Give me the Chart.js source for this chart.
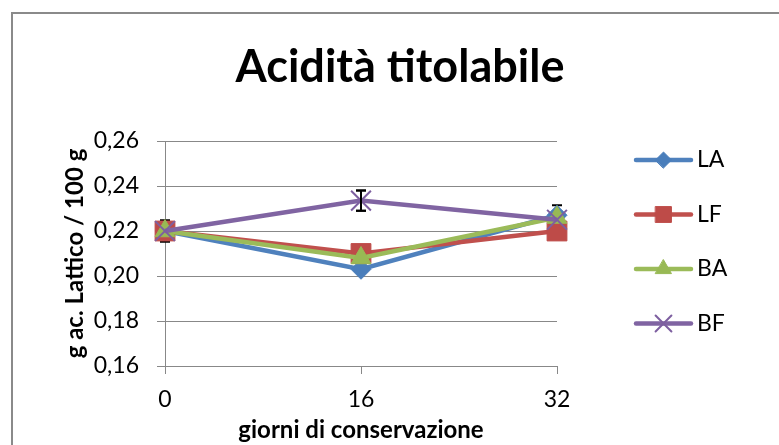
<!DOCTYPE html>
<html>
<head>
<meta charset="utf-8">
<script src="https://cdn.jsdelivr.net/npm/chart.js@4.4.0/dist/chart.umd.min.js"></script>
<style>
  html, body { margin: 0; padding: 0; background: #fff; overflow: hidden; }
  #cornice { position: absolute; left: 11px; top: 12px; width: 900px; height: 600px; border: 2px solid #8a8a8a; box-sizing: border-box; }
  #myChart { position: absolute; left: 0; top: 0; }
</style>
</head>
<body>
<div id="cornice"></div>
<canvas id="myChart" width="779" height="445"></canvas>
<script>
// dati
const giorni = ['0', '16', '32'];
const nomiSerie = ['LA', 'LF', 'BA', 'BF'];
const valoriLA = [0.220, 0.203, 0.227];
const valoriLF = [0.220, 0.210, 0.220];
const valoriBA = [0.220, 0.208, 0.226];
const valoriBF = [0.220, 0.2335, 0.225];
const erroriLA = [0, 0, 0.0045];
const erroriLF = [0.0048, 0, 0];
const erroriBA = [0, 0, 0];
const erroriBF = [0, 0.0045, 0];
const yMin = 0.16;
const yMax = 0.26;
const yPasso = 0.02;

const FONT = 'Lato, "Open Sans", sans-serif';
const grigio = '#888888';

const stili = [
  { colore: '#4F81BD', punto: '#4A7EBB', forma: 'rectRot', r: 10 },
  { colore: '#C0504D', punto: '#BE4B48', forma: 'rect', r: 14 },
  { colore: '#9BBB59', punto: '#98B954', forma: 'triangle', r: 11.5 },
  { colore: '#8064A2', punto: '#7D5FA0', forma: 'crossRot', r: 14 }
];
const valori = [valoriLA, valoriLF, valoriBA, valoriBF];
const errori = [erroriLA, erroriLF, erroriBA, erroriBF];

const datasets = nomiSerie.map((nome, i) => ({
  label: nome,
  data: valori[i],
  errori: errori[i],
  borderColor: stili[i].colore,
  backgroundColor: stili[i].punto,
  pointBackgroundColor: stili[i].punto,
  pointBorderColor: stili[i].punto,
  pointBorderWidth: stili[i].forma === 'crossRot' ? 2 : 1,
  pointStyle: stili[i].forma,
  pointRadius: stili[i].r,
  borderWidth: 4.5,
  tension: 0,
  order: 4 - i
}));

// barre di errore (sotto i marcatori, come nell'originale)
const barreErrore = {
  id: 'barreErrore',
  beforeDatasetsDraw(chart) {
    const y = chart.scales.y;
    const ctx = chart.ctx;
    ctx.save();
    ctx.strokeStyle = '#000';
    ctx.lineWidth = 2;
    chart.data.datasets.forEach((ds, i) => {
      const meta = chart.getDatasetMeta(i);
      meta.data.forEach((pt, j) => {
        const e = ds.errori[j];
        if (!e) return;
        const v = ds.data[j];
        const y1 = y.getPixelForValue(v + e);
        const y2 = y.getPixelForValue(v - e);
        ctx.beginPath();
        ctx.moveTo(pt.x, y1); ctx.lineTo(pt.x, y2);
        ctx.moveTo(pt.x - 5, y1); ctx.lineTo(pt.x + 5, y1);
        ctx.moveTo(pt.x - 5, y2); ctx.lineTo(pt.x + 5, y2);
        ctx.stroke();
      });
    });
    ctx.restore();
  },
  afterDatasetsDraw(chart) {
    // la barra di BF resta visibile sopra la croce
    const y = chart.scales.y;
    const ctx = chart.ctx;
    const i = chart.data.datasets.length - 1;
    const ds = chart.data.datasets[i];
    const meta = chart.getDatasetMeta(i);
    ctx.save();
    ctx.strokeStyle = '#000';
    ctx.lineWidth = 2;
    meta.data.forEach((pt, j) => {
      const e = ds.errori[j];
      if (!e) return;
      const v = ds.data[j];
      const y1 = y.getPixelForValue(v + e);
      const y2 = y.getPixelForValue(v - e);
      ctx.beginPath();
      ctx.moveTo(pt.x, y1); ctx.lineTo(pt.x, y2);
      ctx.moveTo(pt.x - 5, y1); ctx.lineTo(pt.x + 5, y1);
      ctx.moveTo(pt.x - 5, y2); ctx.lineTo(pt.x + 5, y2);
      ctx.stroke();
    });
    ctx.restore();
  }
};

// legenda con linea e marcatore, come in Excel
const legendaLinee = {
  id: 'legendaLinee',
  afterDraw(chart) {
    const ctx = chart.ctx;
    const area = chart.chartArea;
    const x0 = area.right + 79;
    const x1 = x0 + 55;
    chart.data.datasets.forEach((ds, i) => {
      const yy = 160 + i * 54.5;
      ctx.save();
      ctx.strokeStyle = ds.borderColor;
      ctx.lineWidth = 4.5;
      ctx.lineCap = 'round';
      ctx.beginPath();
      ctx.moveTo(x0, yy); ctx.lineTo(x1, yy);
      ctx.stroke();
      ctx.fillStyle = ds.pointBackgroundColor;
      ctx.strokeStyle = ds.pointBorderColor;
      ctx.lineWidth = ds.pointBorderWidth;
      Chart.helpers.drawPoint(ctx, { pointStyle: ds.pointStyle, radius: ds.pointRadius * 0.8, borderWidth: ds.pointBorderWidth, rotation: 0 }, (x0 + x1) / 2, yy);
      ctx.fillStyle = '#000';
      ctx.font = '23px ' + FONT;
      ctx.textBaseline = 'middle';
      ctx.fillText(ds.label, x1 + 6, yy);
      ctx.restore();
    });
  }
};

const ctx = document.getElementById('myChart').getContext('2d');
const myChart = new Chart(ctx, {
  type: 'line',
  data: { labels: giorni, datasets: datasets },
  plugins: [barreErrore, legendaLinee],
  options: {
    responsive: false,
    animation: false,
    layout: { padding: { left: 21, right: 0, top: 0, bottom: 0 } },
    plugins: {
      legend: { display: false },
      tooltip: { enabled: false },
      title: {
        display: true,
        text: 'Acidità titolabile',
        color: '#000',
        font: { family: FONT, size: 45, weight: 'bold' },
        padding: { top: 40, bottom: 47 }
      }
    },
    scales: {
      x: {
        offset: false,
        afterFit(scale) { scale.height = 79; },
        grid: { display: true, drawOnChartArea: false, color: grigio, tickLength: 8 },
        border: { color: grigio, width: 1 },
        ticks: { color: '#000', font: { family: FONT, size: 23 }, padding: 12 },
        title: {
          display: true,
          text: 'giorni di conservazione',
          color: '#000',
          font: { family: FONT, size: 24, weight: 'bold' },
          padding: { top: 0, bottom: 0 }
        }
      },
      y: {
        min: yMin,
        max: yMax,
        afterFit(scale) { scale.width = 144; },
        grid: { color: grigio, tickLength: 8 },
        border: { color: grigio, width: 1 },
        ticks: {
          stepSize: yPasso,
          color: '#000',
          font: { family: FONT, size: 23 },
          padding: 18,
          callback: (v) => v.toFixed(2).replace('.', ',')
        },
        title: {
          display: true,
          text: 'g ac. Lattico / 100 g',
          color: '#000',
          font: { family: FONT, size: 24, weight: 'bold' },
          padding: { top: 40, bottom: 0 }
        }
      },
      // spazio a destra per la legenda
      spazio: {
        type: 'linear',
        position: 'right',
        afterFit(scale) { scale.width = 222; },
        grid: { display: false },
        border: { display: false },
        ticks: { display: false }
      }
    }
  }
});
</script>
</body>
</html>
